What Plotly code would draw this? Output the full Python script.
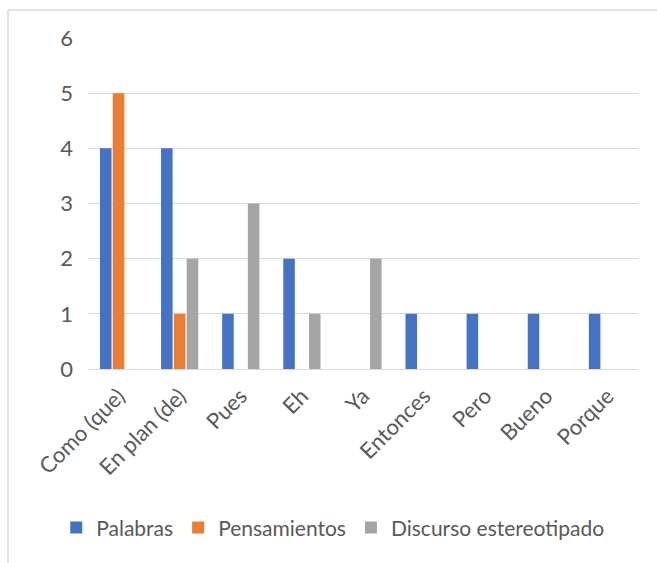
import plotly.graph_objects as go

categories = ["Como (que)", "En plan (de)", "Pues", "Eh", "Ya", "Entonces", "Pero", "Bueno", "Porque"]
palabras = [4, 4, 1, 2, 0, 1, 1, 1, 1]
pensamientos = [5, 1, 0, 0, 0, 0, 0, 0, 0]
discurso = [0, 2, 3, 1, 2, 0, 0, 0, 0]
series_names = ["Palabras", "Pensamientos", "Discurso estereotipado"]
colors = ["#4472C4", "#ED7D31", "#A5A5A5"]

W, H = 657, 563
L, R, T, B = 88, 19, 38, 194
pw, ph = W - L - R, H - T - B

fig = go.Figure()
for name, vals, c in zip(series_names, [palabras, pensamientos, discurso], colors):
    fig.add_trace(go.Bar(x=categories, y=vals, name=name, marker_color=c,
                         marker_line_width=0))

font = "Lato, Open Sans, sans-serif"
fig.update_layout(
    width=W, height=H,
    margin=dict(l=L, r=R, t=T, b=B, autoexpand=False),
    plot_bgcolor="white", paper_bgcolor="white",
    barmode="group", bargap=0.37, bargroupgap=0.1,
    font=dict(family=font, size=21, color="#595959"),
    showlegend=True,
    legend=dict(orientation="h", x=0.445, xanchor="center", y=-0.48, yanchor="middle",
                font=dict(size=21, color="#595959"), itemwidth=30, traceorder="normal"),
    xaxis=dict(tickangle=-45, showgrid=False, showline=False, ticks="", automargin=False,
               ticklabelstandoff=9,
               tickfont=dict(size=22, color="#595959")),
    yaxis=dict(range=[0, 6], dtick=1, showgrid=True, gridcolor="#D9D9D9", gridwidth=1,
               zeroline=True, zerolinecolor="#D9D9D9", zerolinewidth=1,
               showline=False, ticks="", ticklen=0, automargin=False, ticklabelstandoff=14,
               tickfont=dict(size=22, color="#595959")),
)

# chart-area border (top and left edges visible)
x0 = (8 - L) / pw
y1 = (H - B - 10) / ph
y0 = (H - B - H) / ph
fig.add_shape(type="line", xref="paper", yref="paper", x0=x0, x1=(W - L + 5) / pw, y0=y1, y1=y1,
              line=dict(color="#D9D9D9", width=1.5))
fig.add_shape(type="line", xref="paper", yref="paper", x0=x0, x1=x0, y0=y0 - 0.05, y1=y1,
              line=dict(color="#D9D9D9", width=1.5))

fig.write_html("out.html", config={"displayModeBar": False},
               post_script="document.body.style.margin='0';")
